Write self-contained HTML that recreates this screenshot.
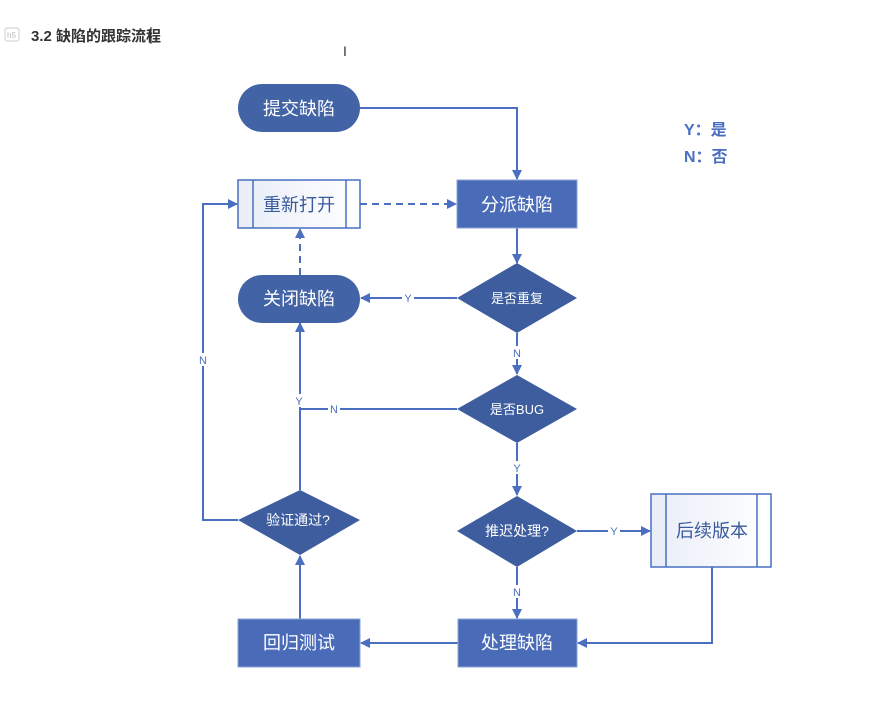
<!DOCTYPE html>
<html><head><meta charset="utf-8"><style>
html,body{margin:0;padding:0;background:#fff;width:871px;height:710px;overflow:hidden}
svg{display:block}
text{font-family:"Liberation Sans","Noto Sans CJK SC",sans-serif}
</style></head><body>
<svg width="871" height="710" viewBox="0 0 871 710" xmlns="http://www.w3.org/2000/svg">
<defs>
<marker id="a" markerWidth="10" markerHeight="10" refX="9" refY="5" orient="auto" markerUnits="userSpaceOnUse"><path d="M0,0 L10,5 L0,10 Z" fill="#4a6fc0"/></marker>
<linearGradient id="g" x1="0" x2="1"><stop offset="0" stop-color="#e8edf7"/><stop offset="1" stop-color="#ffffff"/></linearGradient>
</defs>
<!-- header -->
<rect x="5" y="28" width="14" height="13" rx="2" fill="none" stroke="#ccc"/>
<text x="7" y="38" font-size="8" fill="#bbb">h5</text>
<text x="31" y="41" font-size="15" font-weight="bold" fill="#333">3.2 缺陷的跟踪流程</text>
<line x1="151" y1="27" x2="151" y2="44" stroke="#333"/>
<text x="343" y="56" font-size="14" fill="#333">I</text>

<g stroke="#4a6fc0" stroke-width="2" fill="none">
<polyline points="360,108 517,108 517,179" marker-end="url(#a)"/>
<line x1="360" y1="204" x2="456" y2="204" stroke-dasharray="7,5" marker-end="url(#a)"/>
<line x1="517" y1="228" x2="517" y2="263" marker-end="url(#a)"/>
<line x1="457" y1="298" x2="361" y2="298" marker-end="url(#a)"/>
<line x1="517" y1="333" x2="517" y2="374" marker-end="url(#a)"/>
<line x1="457" y1="409" x2="300" y2="409"/>
<line x1="300" y1="490" x2="300" y2="323" marker-end="url(#a)"/>
<line x1="300" y1="275" x2="300" y2="229" stroke-dasharray="7,5" marker-end="url(#a)"/>
<line x1="517" y1="443" x2="517" y2="495" marker-end="url(#a)"/>
<line x1="577" y1="531" x2="650" y2="531" marker-end="url(#a)"/>
<line x1="517" y1="567" x2="517" y2="618" marker-end="url(#a)"/>
<polyline points="712,567 712,643 578,643" marker-end="url(#a)"/>
<line x1="458" y1="643" x2="361" y2="643" marker-end="url(#a)"/>
<line x1="300" y1="619" x2="300" y2="556" marker-end="url(#a)"/>
<polyline points="238,520 203,520 203,204 237,204" marker-end="url(#a)"/>
</g>
<!-- labels on lines -->
<g font-size="11" fill="#4a6fc0" text-anchor="middle">
<rect x="402" y="291" width="12" height="13" fill="#fff"/><text x="408" y="302">Y</text>
<rect x="511" y="346" width="12" height="13" fill="#fff"/><text x="517" y="357">N</text>
<rect x="328" y="402" width="12" height="13" fill="#fff"/><text x="334" y="413">N</text>
<rect x="294" y="394" width="12" height="13" fill="#fff"/><text x="299" y="405">Y</text>
<rect x="511" y="461" width="12" height="13" fill="#fff"/><text x="517" y="472">Y</text>
<rect x="608" y="524" width="12" height="13" fill="#fff"/><text x="614" y="535">Y</text>
<rect x="511" y="585" width="12" height="13" fill="#fff"/><text x="517" y="596">N</text>
<rect x="197" y="353" width="12" height="13" fill="#fff"/><text x="203" y="364">N</text>
</g>
<!-- nodes -->
<rect x="238" y="84" width="122" height="48" rx="24" fill="#4263a6"/>
<text x="299" y="115" font-size="18" fill="#fff" text-anchor="middle">提交缺陷</text>
<rect x="238" y="180" width="122" height="48" fill="url(#g)" stroke="#4a6fc0" stroke-width="1.5"/>
<line x1="253" y1="180" x2="253" y2="228" stroke="#4a6fc0" stroke-width="1.5"/>
<line x1="346" y1="180" x2="346" y2="228" stroke="#4a6fc0" stroke-width="1.5"/>
<text x="299" y="211" font-size="18" fill="#3a5a9e" text-anchor="middle">重新打开</text>
<rect x="457" y="180" width="120" height="48" fill="#4a6cb8" stroke="#8aa3d6"/>
<text x="517" y="211" font-size="18" fill="#fff" text-anchor="middle">分派缺陷</text>
<rect x="238" y="275" width="122" height="48" rx="24" fill="#4263a6"/>
<text x="299" y="305" font-size="18" fill="#fff" text-anchor="middle">关闭缺陷</text>
<polygon points="517,263 577,298 517,333 457,298" fill="#3d5d9f"/>
<text x="517" y="303" font-size="13" fill="#fff" text-anchor="middle">是否重复</text>
<polygon points="517,375 577,409 517,443 457,409" fill="#3d5d9f"/>
<text x="517" y="414" font-size="13" fill="#fff" text-anchor="middle">是否BUG</text>
<polygon points="517,496 577,531 517,567 457,531" fill="#3d5d9f"/>
<text x="517" y="536" font-size="14" fill="#fff" text-anchor="middle">推迟处理?</text>
<polygon points="300,490 360,520 300,555 238,520" fill="#3d5d9f"/>
<text x="298" y="525" font-size="14" fill="#fff" text-anchor="middle">验证通过?</text>
<rect x="651" y="494" width="120" height="73" fill="url(#g)" stroke="#4a6fc0" stroke-width="1.5"/>
<line x1="666" y1="494" x2="666" y2="567" stroke="#4a6fc0" stroke-width="1.5"/>
<line x1="757" y1="494" x2="757" y2="567" stroke="#4a6fc0" stroke-width="1.5"/>
<text x="712" y="537" font-size="18" fill="#3a5a9e" text-anchor="middle">后续版本</text>
<rect x="458" y="619" width="119" height="48" fill="#4a6cb8" stroke="#8aa3d6"/>
<text x="517" y="649" font-size="18" fill="#fff" text-anchor="middle">处理缺陷</text>
<rect x="238" y="619" width="122" height="48" fill="#4a6cb8" stroke="#8aa3d6"/>
<text x="299" y="649" font-size="18" fill="#fff" text-anchor="middle">回归测试</text>
<!-- legend -->
<text x="684" y="135" font-size="16" fill="#4a6fc0" font-weight="bold">Y：是</text>
<text x="684" y="162" font-size="16" fill="#4a6fc0" font-weight="bold">N：否</text>
</svg>
</body></html>
